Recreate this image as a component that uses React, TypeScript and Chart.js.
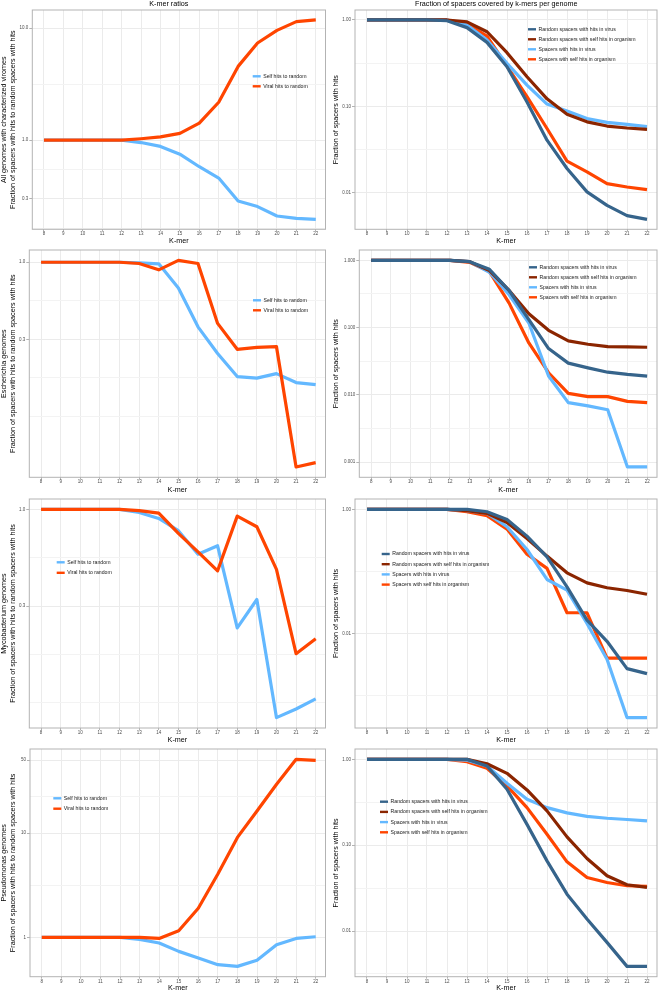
import React, { useEffect, useRef } from "react";
import { Chart, registerables } from "chart.js";

Chart.register(...registerables);

const FONT = '"Liberation Sans", Arial, Helvetica, sans-serif';

// ---------------- data ----------------
const KMERS = [8, 9, 10, 11, 12, 13, 14, 15, 16, 17, 18, 19, 20, 21, 22];

const RATIO_LABELS = ["Self hits to random", "Viral hits to random"];
const FRACTION_LABELS = [
  "Random spacers with hits in virus",
  "Random spacers with self hits in organism",
  "Spacers with hits in virus",
  "Spacers with self hits in organism",
];
const RATIO_COLORS = ["#63B8FF", "#FF4500"];
const FRACTION_COLORS = ["#36648B", "#8B2500", "#63B8FF", "#FF4500"];

const TITLE_LEFT = "K-mer ratios";
const TITLE_RIGHT = "Fraction of spacers covered by k-mers per genome";
const X_TITLE = "K-mer";
const Y_TITLE_FRACTION = "Fraction of spacers with hits";
const Y_TITLE_RATIO = "Fraction of spacers with hits to random spacers with hits";
const GROUP_ALL = "All genomes with characterized viromes";
const GROUP_ECOLI = "Escherichia genomes";
const GROUP_MYCO = "Mycobacterium genomes";
const GROUP_PSEUDO = "Pseudomonas genomes";

// All genomes
const allSelfRatio = [1, 1, 1, 1, 1, 0.953, 0.88, 0.75, 0.58, 0.46, 0.287, 0.256, 0.211, 0.201, 0.197];
const allViralRatio = [1, 1, 1, 1, 1, 1.03, 1.07, 1.15, 1.42, 2.18, 4.55, 7.35, 9.53, 11.4, 11.8];
const allRandVirus = [1, 1, 1, 1, 0.98, 0.815, 0.55, 0.287, 0.112, 0.0405, 0.019, 0.0102, 0.0071, 0.0054, 0.0049];
const allRandSelf = [1, 1, 1, 1, 1, 0.95, 0.73, 0.418, 0.22, 0.122, 0.081, 0.066, 0.059, 0.056, 0.054];
const allSpVirus = [1, 1, 1, 1, 1, 0.875, 0.586, 0.314, 0.176, 0.106, 0.088, 0.072, 0.065, 0.0616, 0.058];
const allSpSelf = [1, 1, 1, 1, 1, 0.9, 0.65, 0.292, 0.129, 0.0553, 0.0231, 0.0174, 0.0127, 0.0116, 0.0108];

// Escherichia
const ecoSelfRatio = [1, 1, 1, 1, 1, 0.99, 0.975, 0.668, 0.365, 0.241, 0.168, 0.164, 0.176, 0.153, 0.148];
const ecoViralRatio = [1, 1, 1, 1, 1, 0.98, 0.888, 1.03, 0.98, 0.385, 0.257, 0.265, 0.268, 0.041, 0.0439];
const ecoRandVirus = [1, 1, 1, 1, 1, 0.955, 0.736, 0.356, 0.131, 0.0487, 0.0296, 0.0252, 0.0217, 0.0201, 0.019];
const ecoRandSelf = [1, 1, 1, 1, 1, 0.955, 0.703, 0.356, 0.161, 0.091, 0.0633, 0.0565, 0.0521, 0.0515, 0.051];
const ecoSpVirus = [1, 1, 1, 1, 1, 0.955, 0.665, 0.307, 0.117, 0.019, 0.00765, 0.00683, 0.006, 0.000845, 0.000845];
const ecoSpSelf = [1, 1, 1, 1, 1, 0.935, 0.68, 0.231, 0.059, 0.0213, 0.0105, 0.0094, 0.0094, 0.008, 0.00765];

// Mycobacterium
const mycSelfRatio = [1, 1, 1, 1, 1, 0.963, 0.894, 0.767, 0.573, 0.636, 0.229, 0.326, 0.075, 0.0835, 0.0946];
const mycViralRatio = [1, 1, 1, 1, 1, 0.984, 0.955, 0.742, 0.59, 0.466, 0.92, 0.806, 0.474, 0.166, 0.2];
const mycRandVirus = [1, 1, 1, 1, 1, 1, 0.917, 0.69, 0.371, 0.172, 0.0566, 0.0164, 0.0075, 0.00272, 0.00226];
const mycRandSelf = [1, 1, 1, 1, 1, 0.952, 0.862, 0.617, 0.34, 0.177, 0.095, 0.0656, 0.0546, 0.0494, 0.043];
const mycSpVirus = [1, 1, 1, 1, 1, 0.952, 0.862, 0.525, 0.226, 0.0743, 0.05, 0.0145, 0.00385, 0.000442, 0.000442];
const mycSpSelf = [1, 1, 1, 1, 1, 0.917, 0.79, 0.482, 0.19, 0.112, 0.0216, 0.0216, 0.004, 0.004, 0.004];

// Pseudomonas
const psSelfRatio = [1, 1, 1, 1, 1, 0.957, 0.883, 0.735, 0.635, 0.548, 0.528, 0.603, 0.851, 0.978, 1.015];
const psViralRatio = [1, 1, 1, 1, 1, 1, 0.978, 1.158, 1.906, 4.06, 9.09, 16.3, 29.4, 50.9, 49.8];
const psRandVirus = [1, 1, 1, 1, 1, 1, 0.837, 0.448, 0.175, 0.0657, 0.0269, 0.0138, 0.00738, 0.00388, 0.00388];
const psRandSelf = [1, 1, 1, 1, 1, 1, 0.89, 0.687, 0.44, 0.251, 0.125, 0.07, 0.044, 0.0346, 0.0322];
const psSpVirus = [1, 1, 1, 1, 1, 0.98, 0.837, 0.526, 0.343, 0.274, 0.238, 0.217, 0.206, 0.1993, 0.192];
const psSpSelf = [1, 1, 1, 1, 1, 0.94, 0.786, 0.49, 0.274, 0.134, 0.064, 0.042, 0.0368, 0.0337, 0.0331];

// y breaks / tick labels
const allRatioBreaks = [0.3, 1, 10];
const allRatioBreakLabels = ["0.3", "1.0", "10.0"];
const allFracBreaks = [0.01, 0.1, 1];
const allFracBreakLabels = ["0.01", "0.10", "1.00"];
const ecoRatioBreaks = [0.3, 1];
const ecoRatioBreakLabels = ["0.3", "1.0"];
const ecoFracBreaks = [0.001, 0.01, 0.1, 1];
const ecoFracBreakLabels = ["0.001", "0.010", "0.100", "1.000"];
const mycRatioBreaks = [0.3, 1];
const mycRatioBreakLabels = ["0.3", "1.0"];
const mycFracBreaks = [0.01, 1];
const mycFracBreakLabels = ["0.01", "1.00"];
const psRatioBreaks = [1, 10, 50];
const psRatioBreakLabels = ["1", "10", "50"];
const psFracBreaks = [0.01, 0.1, 1];
const psFracBreakLabels = ["0.01", "0.10", "1.00"];

// ---------------- styling ----------------
const TITLE_SIZE = 7.2;
const TICK_SIZE = 4.5;
const LEGEND_SIZE = 5.2;
const LINE_W = 3.2;
const X_MIN = 7.4;
const X_MAX = 22.5;
const X_TITLE_LH = 1.2;
const Y_TITLE_LH = 1.28;

type Lay = {
  cx: number; cy: number; cw: number; ch: number;
  l: number; t: number; r: number; b: number;
  yTitleX: number; xTitleY: number;
  legendX: number; legendY: number; legendDy: number;
  titleX?: number; titleY?: number;
};

type PanelDef = {
  lay: Lay;
  title?: string;
  yTitle: string | string[];
  labels: string[];
  colors: string[];
  orders: number[];
  values: number[][];
  breaks: number[];
  breakLabels: string[];
};

function logLimits(series: number[][]) {
  const all = series.flat();
  const lo = Math.log10(Math.min(...all));
  const hi = Math.log10(Math.max(...all));
  const pad = (hi - lo) * 0.05;
  return [lo - pad, hi + pad];
}

// ggplot-style regular minor breaks (in log space)
function minorBreaks(b: number[], lo: number, hi: number) {
  if (b.length < 2) return [];
  const bd = b[1] - b[0];
  let e = b.slice();
  if (lo < e[0]) e = [e[0] - bd, ...e];
  if (hi > e[e.length - 1]) e = [...e, e[e.length - 1] + bd];
  const out: number[] = [];
  for (let i = 0; i < e.length - 1; i++) {
    out.push(e[i], (e[i] + e[i + 1]) / 2);
  }
  out.push(e[e.length - 1]);
  return out.filter((v) => v >= lo && v <= hi && !b.some((m) => Math.abs(m - v) < 1e-9));
}

function decorPlugin(def: PanelDef) {
  const L = def.lay;
  return {
    id: "panelDecor",
    afterDatasetsDraw(chart: any) {
      const { ctx, chartArea: a } = chart;
      ctx.save();
      ctx.strokeStyle = "#b3b3b3";
      ctx.lineWidth = 1;
      ctx.strokeRect(a.left, a.top, a.right - a.left, a.bottom - a.top);
      ctx.font = `${LEGEND_SIZE}px ${FONT}`;
      ctx.textBaseline = "middle";
      ctx.textAlign = "left";
      def.labels.forEach((lab, i) => {
        const x = L.legendX - L.cx;
        const y = L.legendY + i * L.legendDy - L.cy;
        ctx.strokeStyle = def.colors[i];
        ctx.lineWidth = 2.4;
        ctx.lineCap = "butt";
        ctx.beginPath();
        ctx.moveTo(x, y);
        ctx.lineTo(x + 8, y);
        ctx.stroke();
        ctx.fillStyle = "#1a1a1a";
        ctx.fillText(lab, x + 10.5, y);
      });
      if (def.title && L.titleX !== undefined && L.titleY !== undefined) {
        ctx.font = `${TITLE_SIZE}px ${FONT}`;
        ctx.textAlign = "center";
        ctx.fillStyle = "#000";
        ctx.fillText(def.title, L.titleX - L.cx, L.titleY - L.cy);
      }
      ctx.restore();
    },
  };
}

function buildConfig(def: PanelDef): any {
  const L = def.lay;
  const [lmin, lmax] = logLimits(def.values);
  const majors = def.breaks.filter((v) => Math.log10(v) >= lmin && Math.log10(v) <= lmax);
  const minors = minorBreaks(majors.map((v) => Math.log10(v)), lmin, lmax);
  const yTicks = [
    ...minors.map((lv) => ({ value: Math.pow(10, lv), minor: true, lab: "" })),
    ...majors.map((v) => ({ value: v, minor: false, lab: def.breakLabels[def.breaks.indexOf(v)] })),
  ].sort((p, q) => p.value - q.value);

  const yw = L.l - L.cx;
  const xh = L.cy + L.ch - L.b;
  const padTop = L.t - L.cy;
  const padRight = L.cx + L.cw - L.r;
  const xlh = TITLE_SIZE * X_TITLE_LH;
  const ylh = TITLE_SIZE * Y_TITLE_LH;
  const xPb = L.cy + L.ch - L.xTitleY - xlh / 2;
  const yPt = L.yTitleX - L.cx - ylh / 2;

  const zero = (s: any) => {
    s.paddingLeft = 0;
    s.paddingRight = 0;
    s.paddingTop = 0;
    s.paddingBottom = 0;
  };

  return {
    type: "line",
    data: {
      datasets: def.values.map((vals, i) => ({
        label: def.labels[i],
        data: KMERS.map((k, j) => ({ x: k, y: vals[j] })),
        borderColor: def.colors[i],
        backgroundColor: def.colors[i],
        borderWidth: LINE_W,
        pointRadius: 0,
        pointHoverRadius: 0,
        tension: 0,
        fill: false,
        borderJoinStyle: "round",
        borderCapStyle: "butt",
        order: def.orders[i],
      })),
    },
    options: {
      responsive: false,
      devicePixelRatio: 1,
      animation: false,
      events: [],
      layout: { padding: { top: padTop, right: padRight, bottom: 0, left: 0 } },
      plugins: {
        legend: { display: false },
        tooltip: { enabled: false },
        title: { display: false },
      },
      scales: {
        x: {
          type: "linear",
          min: X_MIN,
          max: X_MAX,
          bounds: "data",
          afterBuildTicks: (s: any) => {
            s.ticks = KMERS.map((k) => ({ value: k }));
          },
          afterFit: (s: any) => {
            s.height = xh;
            zero(s);
          },
          ticks: {
            autoSkip: false,
            maxRotation: 0,
            minRotation: 0,
            padding: 0,
            color: "#4d4d4d",
            font: { size: TICK_SIZE, family: FONT },
            callback: (v: any) => String(v),
          },
          grid: {
            color: "#ebebeb",
            lineWidth: 1,
            tickLength: 2,
            tickColor: "#b3b3b3",
            tickWidth: 1,
          },
          border: { display: false },
          title: {
            display: true,
            text: X_TITLE,
            color: "#000",
            font: { size: TITLE_SIZE, family: FONT, lineHeight: X_TITLE_LH },
            padding: { top: 0, bottom: xPb },
          },
        },
        y: {
          type: "logarithmic",
          min: Math.pow(10, lmin),
          max: Math.pow(10, lmax),
          bounds: "data",
          afterBuildTicks: (s: any) => {
            s.ticks = yTicks.map((t) => ({ ...t }));
          },
          afterFit: (s: any) => {
            s.width = yw;
            zero(s);
          },
          ticks: {
            autoSkip: false,
            padding: 1,
            color: "#4d4d4d",
            font: { size: TICK_SIZE, family: FONT },
            callback: (_v: any, i: number, ts: any[]) => (ts[i] && ts[i].lab) || "",
          },
          grid: {
            color: (c: any) => (c.tick && c.tick.minor ? "#f3f3f3" : "#ebebeb"),
            lineWidth: 1,
            tickLength: 3,
            tickColor: (c: any) => (c.tick && c.tick.minor ? "rgba(0,0,0,0)" : "#b3b3b3"),
            tickWidth: 1,
          },
          border: { display: false },
          title: {
            display: true,
            text: def.yTitle,
            color: "#000",
            font: { size: TITLE_SIZE, family: FONT, lineHeight: Y_TITLE_LH },
            padding: { top: yPt, bottom: 0 },
          },
        },
      },
    },
    plugins: [decorPlugin(def)],
  };
}

// ---------------- panels ----------------
const LEFT = { cx: -1, cw: 331, r: 325.5 };
const RIGHT = { cx: 330, cw: 330, r: 657 };
const ROW1 = { cy: 0, ch: 247, t: 10, b: 229.3, xTitleY: 241.3 };
const ROW2 = { cy: 247, ch: 248, t: 250, b: 477.3, xTitleY: 490.5 };
const ROW3 = { cy: 495, ch: 250, t: 499, b: 728, xTitleY: 740.5 };
const ROW4 = { cy: 745, ch: 247, t: 749, b: 976.7, xTitleY: 988 };

const ratioPanel = (lay: Lay, yTitle: string[], values: number[][], breaks: number[], breakLabels: string[], title?: string): PanelDef => ({
  lay, title, yTitle, labels: RATIO_LABELS, colors: RATIO_COLORS, orders: [1, 0], values, breaks, breakLabels,
});
const fracPanel = (lay: Lay, values: number[][], breaks: number[], breakLabels: string[], title?: string): PanelDef => ({
  lay, title, yTitle: Y_TITLE_FRACTION, labels: FRACTION_LABELS, colors: FRACTION_COLORS, orders: [0, 1, 2, 3], values, breaks, breakLabels,
});

const PANELS: PanelDef[] = [
  ratioPanel(
    { ...LEFT, ...ROW1, l: 32.3, yTitleX: 3.6, legendX: 252.7, legendY: 76.3, legendDy: 10, titleX: 168.8, titleY: 3.7 },
    [GROUP_ALL, Y_TITLE_RATIO], [allSelfRatio, allViralRatio], allRatioBreaks, allRatioBreakLabels, TITLE_LEFT
  ),
  fracPanel(
    { ...RIGHT, ...ROW1, l: 355, yTitleX: 336, legendX: 528, legendY: 29.3, legendDy: 10, titleX: 496.3, titleY: 3.7 },
    [allRandVirus, allRandSelf, allSpVirus, allSpSelf], allFracBreaks, allFracBreakLabels, TITLE_RIGHT
  ),
  ratioPanel(
    { ...LEFT, ...ROW2, l: 29.3, yTitleX: 3.6, legendX: 253, legendY: 300.3, legendDy: 10 },
    [GROUP_ECOLI, Y_TITLE_RATIO], [ecoSelfRatio, ecoViralRatio], ecoRatioBreaks, ecoRatioBreakLabels
  ),
  fracPanel(
    { ...RIGHT, ...ROW2, l: 359.3, yTitleX: 336, legendX: 529, legendY: 267.3, legendDy: 10 },
    [ecoRandVirus, ecoRandSelf, ecoSpVirus, ecoSpSelf], ecoFracBreaks, ecoFracBreakLabels
  ),
  ratioPanel(
    { ...LEFT, ...ROW3, l: 29.3, yTitleX: 3.6, legendX: 56.7, legendY: 562.3, legendDy: 10.5 },
    [GROUP_MYCO, Y_TITLE_RATIO], [mycSelfRatio, mycViralRatio], mycRatioBreaks, mycRatioBreakLabels
  ),
  fracPanel(
    { ...RIGHT, ...ROW3, l: 355, yTitleX: 336, legendX: 381.7, legendY: 554, legendDy: 10.2 },
    [mycRandVirus, mycRandSelf, mycSpVirus, mycSpSelf], mycFracBreaks, mycFracBreakLabels
  ),
  ratioPanel(
    { ...LEFT, ...ROW4, l: 30, yTitleX: 3.6, legendX: 53.3, legendY: 798.3, legendDy: 10.4 },
    [GROUP_PSEUDO, Y_TITLE_RATIO], [psSelfRatio, psViralRatio], psRatioBreaks, psRatioBreakLabels
  ),
  fracPanel(
    { ...RIGHT, ...ROW4, l: 355, yTitleX: 336, legendX: 380, legendY: 801.7, legendDy: 10.2 },
    [psRandVirus, psRandSelf, psSpVirus, psSpSelf], psFracBreaks, psFracBreakLabels
  ),
];

function Panel({ def }: { def: PanelDef }) {
  const ref = useRef<HTMLCanvasElement | null>(null);
  useEffect(() => {
    if (!ref.current) return;
    const chart = new Chart(ref.current, buildConfig(def));
    return () => chart.destroy();
  }, [def]);
  const L = def.lay;
  return (
    <canvas
      ref={ref}
      width={L.cw}
      height={L.ch}
      style={{ position: "absolute", left: L.cx, top: L.cy, width: L.cw, height: L.ch, display: "block" }}
    />
  );
}

export default function App() {
  return (
    <div
      style={{
        position: "absolute",
        left: 0,
        top: 0,
        width: 659,
        height: 991,
        overflow: "hidden",
        background: "#ffffff",
      }}
    >
      {PANELS.map((p, i) => (
        <Panel key={i} def={p} />
      ))}
    </div>
  );
}
